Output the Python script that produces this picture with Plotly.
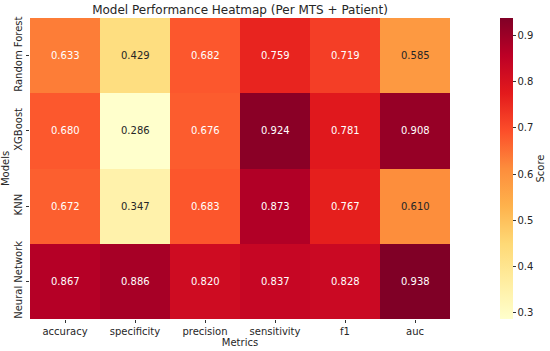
import plotly.graph_objects as go
import plotly.colors as pc

models = ["Random Forest", "XGBoost", "KNN", "Neural Network"]
metrics = ["accuracy", "specificity", "precision", "sensitivity", "f1", "auc"]
rf = [0.633, 0.429, 0.682, 0.759, 0.719, 0.585]
xgb = [0.680, 0.286, 0.676, 0.924, 0.781, 0.908]
knn = [0.672, 0.347, 0.683, 0.873, 0.767, 0.610]
nn = [0.867, 0.886, 0.820, 0.837, 0.828, 0.938]
values = [rf, xgb, knn, nn]

font = "DejaVu Sans"
zmin = min(min(r) for r in values)
zmax = max(max(r) for r in values)

L, R, T, B = 30, 100, 18, 32
W, H = 550, 351
pw = W - L - R

fig = go.Figure(go.Heatmap(
    z=values, x=metrics, y=models,
    colorscale=pc.sequential.YlOrRd,
    zmin=zmin, zmax=zmax,
    colorbar=dict(
        title=dict(text="Score", side="right", font=dict(size=10, color="#262626")),
        tickvals=[0.3, 0.4, 0.5, 0.6, 0.7, 0.8, 0.9],
        ticktext=["0.3", "0.4", "0.5", "0.6", "0.7", "0.8", "0.9"],
        ticks="outside", ticklen=3, tickcolor="#333",
        tickfont=dict(size=10, color="#262626"),
        thickness=13, len=1.0, lenmode="fraction",
        x=(500 - L) / pw, xanchor="left", xpad=0, y=0.5, yanchor="middle", ypad=0,
        outlinewidth=0,
    ),
))

annotations = []
for i, row in enumerate(values):
    for j, v in enumerate(row):
        color = "#ffffff" if v > 0.62 else "#262626"
        annotations.append(dict(
            x=metrics[j], y=models[i], text=f"{v:.3f}", showarrow=False,
            font=dict(size=10, color=color, family=font),
        ))

fig.update_layout(
    width=W, height=H,
    margin=dict(l=L, r=R, t=T, b=B, autoexpand=False),
    paper_bgcolor="white", plot_bgcolor="white",
    font=dict(family=font, size=10, color="#262626"),
    title=dict(text="Model Performance Heatmap (Per MTS + Patient)",
               x=(L + pw / 2) / W, xanchor="center", y=1 - 10 / H, yanchor="middle",
               font=dict(size=12, color="#262626")),
    annotations=annotations,
)
fig.update_xaxes(title=dict(text="Metrics", standoff=2, font=dict(size=10)),
                 ticks="outside", ticklen=3, tickcolor="#333", showgrid=False,
                 tickfont=dict(size=10))
fig.update_yaxes(title=dict(text="Models", standoff=5, font=dict(size=10)),
                 autorange="reversed", ticks="outside", ticklen=3, tickcolor="#333",
                 tickangle=-90, showgrid=False, tickfont=dict(size=10))

fig.write_html("out.html", config={"displayModeBar": False},
               post_script="document.body.style.margin='0';")
